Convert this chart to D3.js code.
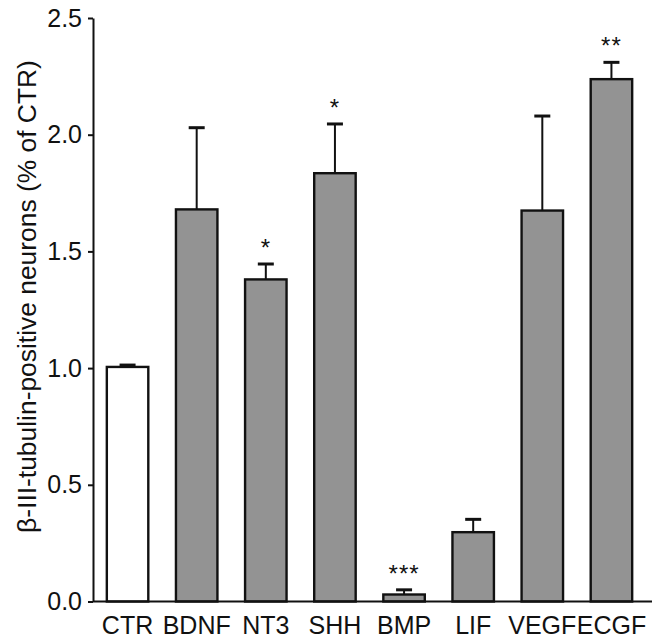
<!DOCTYPE html>
<html>
<head>
<meta charset="utf-8">
<script src="https://cdn.jsdelivr.net/npm/d3@7"></script>
<style>
  body { margin: 0; background: #fff; }
  text { font-family: "Liberation Sans", Arial, sans-serif; fill: #111; }
</style>
</head>
<body>
<svg id="chart" width="652" height="638"></svg>
<script>
// values (fold of control)
const groups = ["CTR", "BDNF", "NT3", "SHH", "BMP", "LIF", "VEGF", "ECGF"];
const means  = [1.005, 1.68, 1.38, 1.835, 0.03, 0.297, 1.675, 2.238];
const errors = [0.008, 0.35, 0.066, 0.211, 0.02, 0.055, 0.405, 0.072];
const stars  = ["", "", "*", "*", "***", "", "", "**"];
const yTicks = [0, 0.5, 1.0, 1.5, 2.0, 2.5];

const svg = d3.select("#chart");
const x0 = 93, yBase = 601.5, yTop = 18;

const x = d3.scaleBand()
    .domain(groups)
    .range([x0, 646])
    .paddingInner(0.4)
    .paddingOuter(0.2);

const y = d3.scaleLinear()
    .domain([0, 2.5])
    .range([yBase, yTop]);

const data = groups.map((g, i) => ({ g, m: means[i], e: errors[i], s: stars[i] }));

// bars
svg.append("g")
    .selectAll("rect")
    .data(data)
    .join("rect")
    .attr("x", d => x(d.g))
    .attr("y", d => y(d.m))
    .attr("width", x.bandwidth())
    .attr("height", d => yBase - y(d.m))
    .attr("fill", d => d.g === "CTR" ? "#fff" : "#939393")
    .attr("stroke", "#111")
    .attr("stroke-width", 2.4);

// error bars (upper only)
const eb = svg.append("g").attr("stroke", "#111");
eb.selectAll("line.v")
    .data(data)
    .join("line")
    .attr("class", "v")
    .attr("x1", d => x(d.g) + x.bandwidth() / 2)
    .attr("x2", d => x(d.g) + x.bandwidth() / 2)
    .attr("y1", d => y(d.m))
    .attr("y2", d => y(d.m + d.e))
    .attr("stroke-width", 2);
eb.selectAll("line.cap")
    .data(data)
    .join("line")
    .attr("class", "cap")
    .attr("x1", d => x(d.g) + x.bandwidth() / 2 - 8)
    .attr("x2", d => x(d.g) + x.bandwidth() / 2 + 8)
    .attr("y1", d => y(d.m + d.e))
    .attr("y2", d => y(d.m + d.e))
    .attr("stroke-width", 3);

// significance stars
svg.append("g")
    .selectAll("text")
    .data(data.filter(d => d.s))
    .join("text")
    .attr("x", d => x(d.g) + x.bandwidth() / 2)
    .attr("y", d => y(d.m + d.e) - 8)
    .attr("text-anchor", "middle")
    .attr("font-size", 24)
    .attr("letter-spacing", 1)
    .text(d => d.s);

// y axis
const yAxis = svg.append("g")
    .attr("transform", `translate(${x0},0)`)
    .call(d3.axisLeft(y).tickValues(yTicks).tickFormat(d3.format(".1f"))
        .tickSize(5).tickSizeOuter(0).tickPadding(6));
yAxis.select(".domain").attr("stroke", "#111").attr("stroke-width", 2);
yAxis.selectAll(".tick line").attr("stroke", "#111").attr("stroke-width", 2);
yAxis.selectAll(".tick text")
    .attr("font-size", 25)
    .attr("font-family", "Liberation Sans, Arial, sans-serif")
    .attr("fill", "#111");

// x axis: baseline and labels, no ticks
svg.append("line")
    .attr("x1", x0).attr("x2", 652)
    .attr("y1", yBase).attr("y2", yBase)
    .attr("stroke", "#111").attr("stroke-width", 2);
svg.append("g")
    .selectAll("text")
    .data(groups)
    .join("text")
    .attr("x", d => x(d) + x.bandwidth() / 2)
    .attr("y", yBase + 32)
    .attr("text-anchor", "middle")
    .attr("font-size", 25)
    .text(d => d);

// y label
svg.append("text")
    .attr("transform", `translate(36,${(60 + 533) / 2}) rotate(-90)`)
    .attr("text-anchor", "middle")
    .attr("font-size", 26.4)
    .text("β-III-tubulin-positive neurons (% of CTR)");
</script>
</body>
</html>
